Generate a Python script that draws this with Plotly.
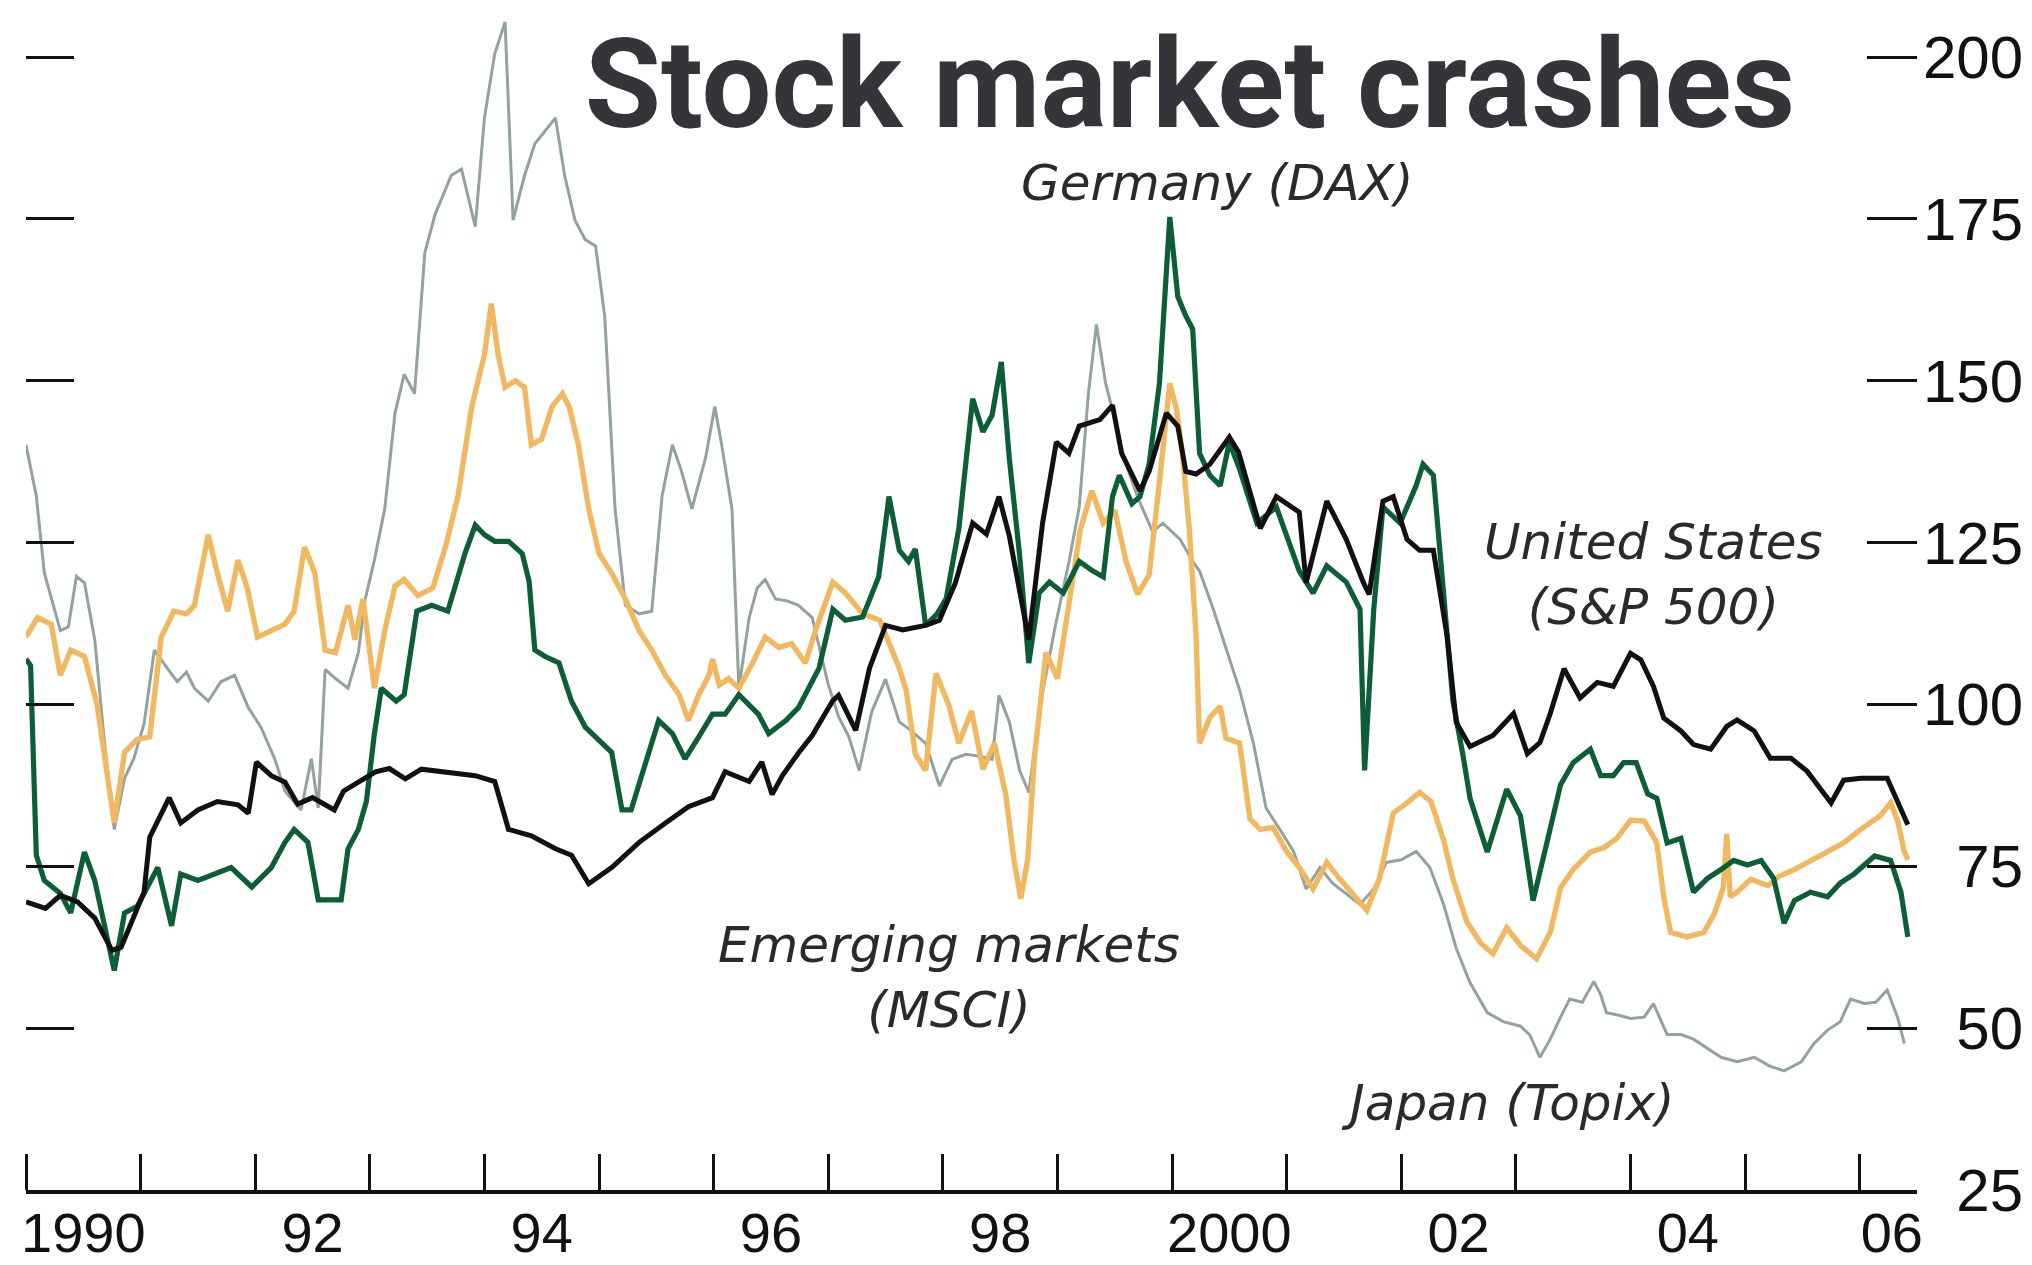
import plotly.graph_objects as go

# ---------------- data (index levels) ----------------
us_t = [1990.0, 1990.08, 1990.17, 1990.3, 1990.45, 1990.6, 1990.75, 1990.83, 1990.95, 1991.03, 1991.08,
        1991.25, 1991.35, 1991.5, 1991.67, 1991.85, 1991.94, 1992.01, 1992.14, 1992.26, 1992.37, 1992.5,
        1992.69, 1992.77, 1992.9, 1993.05, 1993.17, 1993.31, 1993.45, 1993.66, 1993.92, 1994.09, 1994.21,
        1994.41, 1994.62, 1994.76, 1994.91, 1995.11, 1995.35, 1995.58, 1995.78, 1995.99, 1996.1, 1996.31,
        1996.42, 1996.51, 1996.6, 1996.74, 1996.86, 1997.04, 1997.09, 1997.24, 1997.36, 1997.5, 1997.65,
        1997.85, 1997.97, 1998.11, 1998.26, 1998.38, 1998.49, 1998.58, 1998.67, 1998.75, 1998.87, 1998.99,
        1999.1, 1999.19, 1999.37, 1999.48, 1999.56, 1999.72, 1999.8, 1999.95, 2000.05, 2000.12, 2000.21,
        2000.33, 2000.5, 2000.58, 2000.77, 2000.91, 2001.11, 2001.17, 2001.35, 2001.52, 2001.67, 2001.72,
        2001.84, 2001.93, 2002.05, 2002.16, 2002.28, 2002.4, 2002.48, 2002.6, 2002.8, 2002.98, 2003.1,
        2003.21, 2003.3, 2003.42, 2003.56, 2003.71, 2003.85, 2004.0, 2004.09, 2004.2, 2004.29, 2004.44,
        2004.55, 2004.7, 2004.84, 2004.93, 2005.08, 2005.22, 2005.4, 2005.54, 2005.66, 2005.75, 2005.86,
        2006.01, 2006.24, 2006.33, 2006.42]
us_v = [69.5, 69.0, 68.5, 70.5, 69.5, 67.0, 62.0, 62.5, 67.5, 71.0, 79.5,
        85.6, 81.7, 83.7, 85.0, 84.5, 83.2, 91.1, 89.0, 88.0, 84.6, 85.6,
        83.7, 86.6, 88.0, 89.6, 90.1, 88.5, 90.0, 89.5, 89.0, 88.1, 80.7,
        79.7, 77.7, 76.7, 72.3, 74.8, 78.7, 81.7, 84.2, 85.6, 89.6, 88.1,
        91.1, 86.1, 89.0, 92.5, 95.2, 100.6, 101.4, 96.0, 105.6, 112.2, 111.5,
        112.2, 113.0, 118.8, 128.0, 126.3, 132.1, 126.0, 118.0, 110.0, 128.0, 140.5,
        138.8, 143.0, 144.0, 146.2, 138.8, 133.0, 136.0, 145.0, 143.0, 136.0, 135.6,
        137.1, 141.3, 139.0, 127.2, 132.1, 129.7, 118.8, 131.4, 125.5, 118.8, 117.0,
        131.4, 132.1, 125.5, 123.8, 123.8, 110.5, 97.2, 93.5, 95.2, 98.6, 92.4,
        94.1, 98.6, 105.5, 101.0, 103.4, 102.8, 107.9, 106.9, 102.8, 97.9, 95.9,
        93.8, 93.1, 96.6, 97.6, 95.9, 91.7, 91.7, 89.7, 86.9, 84.8, 88.3,
        88.6, 88.6, 84.8, 81.4]

de_t = [1990.0, 1990.04, 1990.09, 1990.16, 1990.3, 1990.39, 1990.51, 1990.6, 1990.77, 1990.86, 1990.97,
        1991.15, 1991.27, 1991.35, 1991.5, 1991.64, 1991.79, 1991.97, 1992.14, 1992.26, 1992.34, 1992.46,
        1992.55, 1992.75, 1992.81, 1992.9, 1992.97, 1993.04, 1993.1, 1993.23, 1993.3, 1993.41, 1993.54,
        1993.68, 1993.83, 1993.92, 1994.0, 1994.09, 1994.21, 1994.33, 1994.39, 1994.44, 1994.53, 1994.65,
        1994.76, 1994.88, 1995.0, 1995.11, 1995.2, 1995.28, 1995.4, 1995.52, 1995.64, 1995.75, 1995.87,
        1995.99, 1996.1, 1996.22, 1996.39, 1996.48, 1996.63, 1996.74, 1996.92, 1997.04, 1997.15, 1997.3,
        1997.44, 1997.53, 1997.62, 1997.7, 1997.76, 1997.85, 1997.95, 1998.03, 1998.14, 1998.26, 1998.35,
        1998.43, 1998.51, 1998.58, 1998.67, 1998.75, 1998.84, 1998.93, 1999.05, 1999.19, 1999.31, 1999.4,
        1999.48, 1999.54, 1999.65, 1999.72, 1999.8, 1999.89, 1999.98, 2000.05, 2000.12, 2000.18, 2000.24,
        2000.33, 2000.42, 2000.5, 2000.59, 2000.74, 2000.91, 2001.11, 2001.23, 2001.35, 2001.52, 2001.64,
        2001.68, 2001.76, 2001.84, 2001.99, 2002.13, 2002.19, 2002.28, 2002.37, 2002.45, 2002.54, 2002.6,
        2002.75, 2002.92, 2003.04, 2003.15, 2003.27, 2003.39, 2003.5, 2003.65, 2003.74, 2003.85, 2003.94,
        2004.05, 2004.15, 2004.23, 2004.32, 2004.44, 2004.55, 2004.67, 2004.79, 2004.9, 2005.02, 2005.14,
        2005.25, 2005.34, 2005.43, 2005.57, 2005.72, 2005.83, 2005.95, 2006.13, 2006.27, 2006.36, 2006.42]
de_v = [107.0, 106.0, 76.7, 72.8, 70.8, 67.8, 77.2, 72.8, 58.9, 67.8, 68.8,
        74.8, 65.8, 73.8, 72.8, 73.8, 74.8, 71.8, 74.8, 78.7, 80.7, 78.7,
        69.8, 69.8, 77.7, 80.7, 85.0, 95.5, 102.5, 100.5, 101.5, 114.4, 115.3,
        114.4, 123.3, 127.7, 126.2, 125.2, 125.2, 123.3, 119.0, 108.4, 107.4, 106.4,
        100.5, 96.5, 94.6, 92.6, 83.7, 83.7, 90.6, 97.5, 95.5, 91.6, 95.0,
        98.5, 98.5, 101.5, 98.5, 95.5, 97.5, 99.5, 105.6, 114.7, 113.0, 113.5,
        119.7, 132.1, 123.8, 122.1, 124.0, 112.2, 114.0, 116.4, 127.2, 147.2, 142.1,
        144.7, 152.9, 138.0, 123.0, 106.4, 117.2, 118.9, 117.2, 122.1, 120.6, 119.7,
        132.1, 135.4, 131.0, 132.1, 137.1, 149.6, 175.3, 163.0, 160.0, 158.0, 138.8,
        135.4, 133.8, 140.5, 136.3, 128.0, 130.5, 120.6, 117.2, 121.4, 118.9, 114.7,
        89.8, 114.7, 130.5, 128.0, 133.8, 137.1, 135.4, 117.2, 100.6, 92.0, 85.5,
        77.2, 86.9, 82.8, 69.7, 78.6, 87.6, 91.0, 93.1, 89.0, 89.0, 91.0,
        91.0, 86.2, 85.5, 78.6, 79.3, 71.0, 73.1, 74.5, 75.9, 75.2, 75.9,
        73.1, 66.2, 69.7, 71.0, 70.3, 72.4, 73.8, 76.6, 75.9, 71.0, 64.1]

em_t = [1990.0, 1990.1, 1990.22, 1990.3, 1990.39, 1990.51, 1990.62, 1990.77, 1990.86, 1990.97, 1991.08,
        1991.18, 1991.29, 1991.4, 1991.47, 1991.59, 1991.67, 1991.76, 1991.85, 1991.93, 1992.02, 1992.14,
        1992.26, 1992.34, 1992.43, 1992.52, 1992.61, 1992.7, 1992.81, 1992.87, 1992.94, 1993.04, 1993.13,
        1993.22, 1993.3, 1993.42, 1993.55, 1993.66, 1993.77, 1993.89, 1994.0, 1994.06, 1994.12, 1994.18,
        1994.27, 1994.35, 1994.41, 1994.5, 1994.59, 1994.68, 1994.74, 1994.82, 1994.91, 1995.0, 1995.11,
        1995.23, 1995.35, 1995.46, 1995.58, 1995.7, 1995.78, 1995.87, 1995.96, 1995.99, 1996.05, 1996.13,
        1996.22, 1996.34, 1996.45, 1996.57, 1996.68, 1996.8, 1996.9, 1997.04, 1997.15, 1997.3, 1997.45,
        1997.62, 1997.68, 1997.76, 1997.85, 1997.94, 1998.05, 1998.14, 1998.25, 1998.35, 1998.45, 1998.55,
        1998.62, 1998.68, 1998.74, 1998.8, 1998.9, 1999.0, 1999.1, 1999.2, 1999.3, 1999.4, 1999.5,
        1999.6, 1999.7, 1999.8, 1999.9, 1999.98, 2000.04, 2000.09, 2000.15, 2000.21, 2000.24, 2000.33,
        2000.42, 2000.47, 2000.59, 2000.68, 2000.77, 2000.88, 2001.0, 2001.11, 2001.23, 2001.35, 2001.46,
        2001.58, 2001.7, 2001.81, 2001.93, 2002.05, 2002.16, 2002.26, 2002.37, 2002.45, 2002.57, 2002.69,
        2002.8, 2002.92, 2003.04, 2003.18, 2003.3, 2003.39, 2003.5, 2003.65, 2003.77, 2003.88, 2004.0,
        2004.12, 2004.23, 2004.29, 2004.35, 2004.49, 2004.64, 2004.73, 2004.81, 2004.84, 2004.87, 2004.93,
        2005.05, 2005.2, 2005.3, 2005.43, 2005.57, 2005.72, 2005.86, 2006.01, 2006.18, 2006.27, 2006.33,
        2006.39, 2006.42]
em_v = [110.4, 113.4, 112.4, 104.5, 108.4, 107.4, 100.0, 81.7, 92.6, 94.6, 95.0,
        110.4, 114.4, 114.0, 115.3, 126.2, 120.3, 114.4, 122.3, 118.0, 110.4, 111.4,
        112.4, 114.4, 124.3, 120.3, 108.4, 108.0, 115.3, 110.0, 116.3, 102.5, 111.4,
        118.3, 119.3, 116.8, 118.0, 124.3, 132.2, 146.0, 154.0, 161.9, 154.0, 149.0,
        150.0, 149.0, 140.1, 141.0, 146.0, 148.0, 146.0, 140.1, 130.2, 123.3, 120.3,
        116.3, 111.4, 108.4, 104.5, 101.5, 97.5, 101.5, 104.5, 107.0, 103.0, 104.0,
        102.5, 106.4, 110.4, 108.8, 109.4, 106.4, 112.0, 118.9, 117.2, 114.0, 113.0,
        105.6, 102.2, 92.3, 89.8, 104.8, 100.0, 94.0, 99.0, 90.0, 94.0, 86.0,
        76.0, 70.0, 76.0, 92.0, 108.0, 104.0, 115.0, 127.0, 133.0, 128.0, 130.0,
        122.0, 117.0, 120.0, 136.0, 149.6, 145.5, 138.8, 127.2, 110.5, 94.0, 98.0,
        99.7, 94.8, 94.0, 82.3, 80.7, 81.0, 77.3, 74.8, 71.5, 75.6, 73.1,
        70.7, 68.2, 73.1, 83.2, 84.8, 86.4, 85.0, 79.0, 73.1, 66.5, 63.2,
        61.5, 65.5, 62.8, 60.7, 64.8, 71.7, 74.5, 77.2, 77.9, 79.3, 82.1,
        82.0, 78.6, 70.3, 64.8, 64.1, 64.8, 67.6, 71.7, 80.0, 70.3, 71.0,
        73.0, 72.0, 73.5, 74.5, 75.9, 77.2, 78.6, 80.7, 82.8, 84.8, 82.1,
        77.2, 76.0]

jp_t = [1990.0, 1990.09, 1990.16, 1990.25, 1990.3, 1990.37, 1990.44, 1990.51, 1990.6, 1990.68, 1990.77,
        1990.86, 1990.94, 1991.03, 1991.12, 1991.24, 1991.32, 1991.4, 1991.47, 1991.59, 1991.7, 1991.82,
        1991.94, 1992.05, 1992.17, 1992.26, 1992.4, 1992.49, 1992.55, 1992.61, 1992.7, 1992.81, 1992.9,
        1992.96, 1993.04, 1993.13, 1993.22, 1993.3, 1993.39, 1993.48, 1993.57, 1993.71, 1993.8, 1993.92,
        1994.0, 1994.09, 1994.18, 1994.25, 1994.35, 1994.44, 1994.53, 1994.62, 1994.7, 1994.79, 1994.88,
        1994.97, 1995.05, 1995.14, 1995.23, 1995.35, 1995.46, 1995.55, 1995.64, 1995.72, 1995.81, 1995.93,
        1996.01, 1996.07, 1996.16, 1996.22, 1996.31, 1996.38, 1996.45, 1996.54, 1996.64, 1996.74, 1996.86,
        1997.0, 1997.09, 1997.18, 1997.27, 1997.38, 1997.5, 1997.62, 1997.72, 1997.85, 1997.97, 1998.08,
        1998.2, 1998.32, 1998.43, 1998.49, 1998.58, 1998.67, 1998.75, 1998.85, 1998.98, 1999.1, 1999.19,
        1999.27, 1999.34, 1999.42, 1999.48, 1999.58, 1999.7, 1999.83, 1999.92, 2000.07, 2000.18, 2000.24,
        2000.36, 2000.47, 2000.59, 2000.71, 2000.82, 2000.94, 2001.06, 2001.17, 2001.29, 2001.4, 2001.52,
        2001.64, 2001.76, 2001.87, 2002.0, 2002.13, 2002.25, 2002.37, 2002.48, 2002.6, 2002.75, 2002.89,
        2003.04, 2003.12, 2003.21, 2003.3, 2003.39, 2003.47, 2003.58, 2003.68, 2003.74, 2003.79, 2003.9,
        2004.0, 2004.12, 2004.2, 2004.32, 2004.44, 2004.55, 2004.67, 2004.79, 2004.93, 2005.08, 2005.22,
        2005.34, 2005.49, 2005.6, 2005.72, 2005.83, 2005.92, 2006.04, 2006.14, 2006.24, 2006.33, 2006.39]
jp_v = [140.1, 132.2, 120.3, 114.4, 111.4, 112.0, 119.8, 118.8, 110.0, 95.0, 80.7,
        88.6, 91.6, 97.0, 108.4, 105.4, 103.5, 105.0, 102.5, 100.5, 103.5, 104.5,
        99.5, 96.5, 91.6, 86.6, 83.7, 91.6, 84.0, 105.4, 104.0, 102.5, 108.0,
        116.3, 122.3, 130.2, 145.0, 151.0, 148.0, 169.8, 175.7, 181.7, 182.7, 173.8,
        190.6, 200.5, 205.4, 174.8, 181.7, 186.6, 188.6, 190.6, 181.7, 174.8, 171.8,
        170.8, 159.9, 130.2, 115.3, 114.0, 114.4, 132.2, 140.1, 136.0, 130.2, 138.1,
        146.0, 140.1, 130.2, 102.5, 113.4, 118.0, 119.3, 116.3, 116.0, 115.3, 113.4,
        103.1, 98.1, 95.0, 89.8, 98.9, 103.9, 97.3, 96.0, 94.0, 87.4, 91.5,
        92.3, 92.0, 91.5, 101.4, 97.3, 89.8, 86.4, 100.0, 112.0, 122.0, 130.5,
        148.0, 158.7, 149.6, 145.5, 138.0, 132.0, 126.7, 128.0, 125.5, 122.1, 120.6,
        114.7, 108.8, 102.2, 94.0, 84.0, 80.7, 77.3, 71.5, 74.8, 72.4, 70.7,
        69.1, 71.5, 75.6, 76.0, 77.3, 74.8, 69.1, 62.3, 57.0, 52.4, 51.0,
        50.3, 49.0, 45.5, 48.3, 51.7, 54.5, 54.0, 57.2, 55.2, 52.4, 52.0,
        51.5, 51.7, 53.8, 49.0, 49.0, 48.3, 46.9, 45.5, 44.8, 45.5, 44.1,
        43.4, 44.8, 47.6, 49.7, 51.0, 54.5, 53.8, 54.0, 55.9, 51.7, 47.6]

x_label_pos = [1990.5, 1992.5, 1994.5, 1996.5, 1998.5, 2000.5, 2002.5, 2004.5, 2006.28]
x_label_text = ["1990", "92", "94", "96", "98", "2000", "02", "04", "06"]
year_ticks = list(range(1990, 2007))
left_tick_vals = [50, 75, 100, 125, 150, 175, 200]
y_tick_vals = [25, 50, 75, 100, 125, 150, 175, 200]
y_tick_text = ["\u200725", "\u200750", "\u200775", "100", "125", "150", "175", "200"]

# ---------------- figure ----------------
fig = go.Figure()
# lighter lines on the left axis, darker lines on the right axis (drawn on top)
fig.add_trace(go.Scatter(x=jp_t, y=jp_v, mode="lines", name="Japan (Topix)", yaxis="y",
                         line=dict(color="#92a39d", width=3.0)))
fig.add_trace(go.Scatter(x=em_t, y=em_v, mode="lines", name="Emerging markets (MSCI)", yaxis="y",
                         line=dict(color="#f1b862", width=5.4)))
fig.add_trace(go.Scatter(x=de_t, y=de_v, mode="lines", name="Germany (DAX)", yaxis="y2",
                         line=dict(color="#0d5e37", width=5.2)))
fig.add_trace(go.Scatter(x=us_t, y=us_v, mode="lines", name="United States (S&P 500)", yaxis="y2",
                         line=dict(color="#111111", width=5.0)))

# the page body adds an 8px offset; the layout below compensates for it
YR = [25, 207.57]
xtickfont = dict(family="Liberation Sans, Arial, sans-serif", size=56, color="#111111")
ytickfont = dict(family="Liberation Sans, Arial, sans-serif", size=60, color="#111111")
label_font = dict(family="DejaVu Sans, sans-serif", size=50, color="#2a2a2a", style="italic")

fig.update_layout(
    template="none",
    width=2032, height=1265,
    margin=dict(l=18, r=123, t=0, b=83, autoexpand=False),
    paper_bgcolor="white", plot_bgcolor="white",
    showlegend=False,
    title=dict(text="<b>Stock market crashes</b>", x=1182 / 2032, xanchor="center",
               y=1 - 76 / 1265, yanchor="middle", yref="container",
               font=dict(family="Roboto, Liberation Sans, sans-serif", size=124, color="#353539")),
    xaxis=dict(range=[1990, 2006.5], showgrid=False, zeroline=False, automargin=False,
               showline=True, linecolor="#111111", linewidth=3.5,
               tickmode="array", tickvals=x_label_pos, ticktext=x_label_text,
               ticks="", tickfont=xtickfont, ticklabelstandoff=-9,
               minor=dict(tickmode="array", tickvals=year_ticks, ticks="inside",
                          ticklen=36, tickwidth=3, tickcolor="#111111", showgrid=False)),
    yaxis=dict(range=YR, showgrid=False, zeroline=False, showline=False, automargin=False,
               tickmode="array", tickvals=left_tick_vals,
               ticks="inside", ticklen=48, tickwidth=3, tickcolor="#111111",
               showticklabels=False),
    yaxis2=dict(range=YR, overlaying="y", side="right", anchor="x", automargin=False,
                showgrid=False, zeroline=False, showline=False,
                tickmode="array", tickvals=y_tick_vals, ticktext=y_tick_text,
                ticks="inside", ticklen=50, tickwidth=3, tickcolor="#111111",
                tickfont=ytickfont, ticklabelstandoff=5),
)

annos = [
    ("Germany (DAX)", 2000.40, 180.5),
    ("United States<br>(S&P 500)", 2004.20, 120.0),
    ("Emerging markets<br>(MSCI)", 1998.05, 57.8),
    ("Japan (Topix)", 2002.93, 38.4),
]
for txt, ax_, ay_ in annos:
    fig.add_annotation(text=txt, x=ax_, y=ay_, xref="x", yref="y", showarrow=False,
                       font=label_font, xanchor="center", yanchor="middle", align="center")

fig.write_html("out.html")
